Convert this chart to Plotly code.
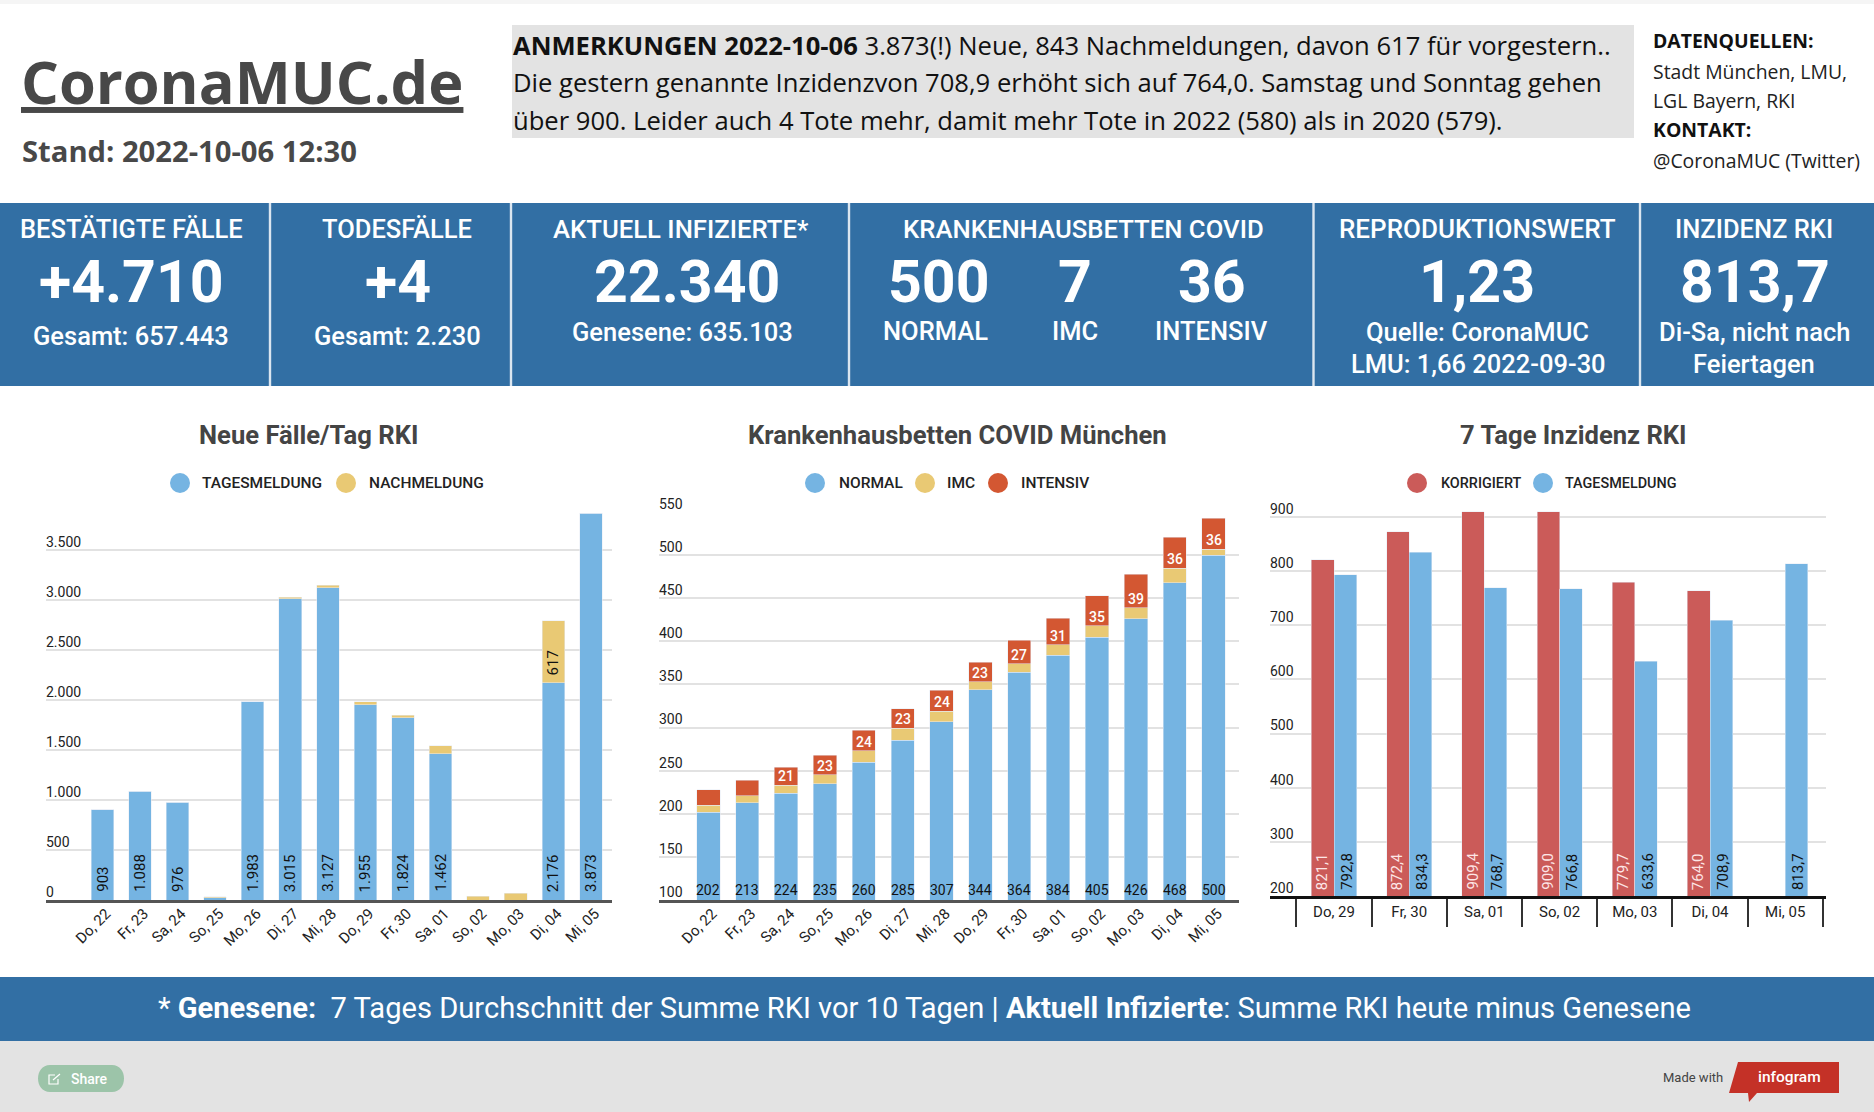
import plotly.graph_objects as go

W = 1874
H = 1112

# chart data
days = ["Do, 22", "Fr, 23", "Sa, 24", "So, 25", "Mo, 26", "Di, 27", "Mi, 28",
        "Do, 29", "Fr, 30", "Sa, 01", "So, 02", "Mo, 03", "Di, 04", "Mi, 05"]
tagesmeldung = [903, 1088, 976, 25, 1983, 3015, 3127, 1955, 1824, 1462, 0, 0, 2176, 3873]
nachmeldung = [0, 0, 0, 10, 0, 15, 21, 28, 26, 81, 37, 70, 617, 0]
cases_ticks = [0, 500, 1000, 1500, 2000, 2500, 3000, 3500]
cases_ticktext = ["0", "500", "1.000", "1.500", "2.000", "2.500", "3.000", "3.500"]

normal = [202, 213, 224, 235, 260, 285, 307, 344, 364, 384, 405, 426, 468, 500]
imc = [8, 8, 9, 10, 13, 14, 12, 9, 10, 12, 13, 13, 17, 7]
intensiv = [18, 18, 21, 23, 24, 23, 24, 23, 27, 31, 35, 39, 36, 36]
beds_ticks = [100, 150, 200, 250, 300, 350, 400, 450, 500, 550]

inz_days = ["Do, 29", "Fr, 30", "Sa, 01", "So, 02", "Mo, 03", "Di, 04", "Mi, 05"]
korrigiert = [821.1, 872.4, 909.4, 909.0, 779.7, 764.0, None]
inz_tages = [792.8, 834.3, 768.7, 766.8, 633.6, 708.9, 813.7]
inz_ticks = [200, 300, 400, 500, 600, 700, 800, 900]

# colours
BLUE = "#75b4e2"
YELLOW = "#e9c974"
ORANGE = "#d35732"
RED = "#cb5b59"
BAND = "#326fa4"
GREY = "#e3e3e3"
TITLE = "#444444"


def fx(px):
    return px / W


def fy(py):
    return 1 - py / H


def de(v):
    return f"{v:,}".replace(",", ".")


def de1(v):
    return f"{v:.1f}".replace(".", ",")


annotations = []
shapes = []


def note(text, x, y, size, color="white", anchor="center", family="Roboto", weight=400):
    annotations.append(dict(text=text, x=fx(x), y=fy(y), xref="paper", yref="paper",
                            xanchor=anchor, yanchor="middle", showarrow=False,
                            font=dict(family=family, size=size, color=color, weight=weight)))


def box(x0, y0, x1, y1, color):
    shapes.append(dict(type="rect", xref="paper", yref="paper", layer="below",
                       x0=fx(x0), x1=fx(x1), y0=fy(y0), y1=fy(y1),
                       fillcolor=color, line_width=0))


def legend_dot(x, y, color, label, label_x, size=15.5):
    shapes.append(dict(type="circle", xref="paper", yref="paper",
                       x0=fx(x - 10), x1=fx(x + 10), y0=fy(y - 10), y1=fy(y + 10),
                       fillcolor=color, line_width=0))
    note(label, label_x, y, size, "#222222", "left", weight=500)


def bar_label(text, x, y, axis, size=15, color="#111111", angle=-90, shift=5, weight=400):
    annotations.append(dict(text=text, x=x, y=y, xref="x" + axis, yref="y" + axis,
                            yanchor="bottom", yshift=shift, textangle=angle, showarrow=False,
                            font=dict(family="Roboto", size=size, color=color, weight=weight)))


# page blocks
box(0, 0, W, 4, "#f5f5f5")
box(512, 25, 1634, 138, GREY)
box(0, 203, W, 386, BAND)
box(0, 977, W, 1041, BAND)
box(0, 1041, W, H, GREY)
for x in [270, 511, 849, 1313.5, 1640]:
    box(x - 1.2, 203, x + 1.2, 386, "#dbe6f0")

# header
note("<b><u>CoronaMUC.de</u></b>", 19, 80, 59.5, "#484848", "left", "Open Sans")
note("<b>Stand: 2022-10-06 12:30</b>", 20, 151, 29.2, "#484848", "left", "Open Sans")
note("<b>ANMERKUNGEN 2022-10-06</b> 3.873(!) Neue, 843 Nachmeldungen, davon 617 für vorgestern..",
     511, 46, 25.6, "#111111", "left", "Open Sans")
note("Die gestern genannte Inzidenzvon 708,9 erhöht sich auf 764,0. Samstag und Sonntag gehen",
     511, 83, 25.6, "#111111", "left", "Open Sans")
note("über 900. Leider auch 4 Tote mehr, damit mehr Tote in 2022 (580) als in 2020 (579).",
     511, 121, 25.6, "#111111", "left", "Open Sans")
note("<b>DATENQUELLEN:</b>", 1651, 41, 19.4, "#111111", "left", "Open Sans")
note("Stadt München, LMU,", 1651, 71, 19.4, "#222222", "left", "Open Sans")
note("LGL Bayern, RKI", 1651, 101, 19.4, "#222222", "left", "Open Sans")
note("<b>KONTAKT:</b>", 1651, 130, 19.4, "#111111", "left", "Open Sans")
note("@CoronaMUC (Twitter)", 1651, 160, 19.4, "#222222", "left", "Open Sans")

# KPI band
note("BESTÄTIGTE FÄLLE", 131, 229, 25.5, weight=500)
note("+4.710", 131, 281, 59, weight=700)
note("Gesamt: 657.443", 131, 336, 25.5, weight=500)
note("TODESFÄLLE", 397, 229, 25.5, weight=500)
note("+4", 398, 281, 59, weight=700)
note("Gesamt: 2.230", 397, 336, 25.5, weight=500)
note("AKTUELL INFIZIERTE*", 681, 229, 25.7, weight=500)
note("22.340", 687, 281, 59, weight=700)
note("Genesene: 635.103", 682, 332, 25.5, weight=500)
note("KRANKENHAUSBETTEN COVID", 1083, 229, 25.7, weight=500)
note("500", 939, 281, 59, weight=700)
note("7", 1075, 281, 59, weight=700)
note("36", 1212, 281, 59, weight=700)
note("NORMAL", 935, 331, 25.5, weight=500)
note("IMC", 1075, 331, 25.5, weight=500)
note("INTENSIV", 1211, 331, 25.5, weight=500)
note("REPRODUKTIONSWERT", 1477, 229, 26, weight=500)
note("1,23", 1477, 281, 59, weight=700)
note("Quelle: CoronaMUC", 1477, 332, 25.5, weight=500)
note("LMU: 1,66 2022-09-30", 1478, 364, 25.5, weight=500)
note("INZIDENZ RKI", 1754, 229, 25.5, weight=500)
note("813,7", 1755, 281, 59, weight=700)
note("Di-Sa, nicht nach", 1754, 332, 25.5, weight=500)
note("Feiertagen", 1754, 364, 25.5, weight=500)

# chart titles and legends
note("Neue Fälle/Tag RKI", 308, 435, 25.6, TITLE, weight=700)
note("Krankenhausbetten COVID München", 957, 435, 25.6, TITLE, weight=700)
note("7 Tage Inzidenz RKI", 1573, 435, 25.6, TITLE, weight=700)
legend_dot(180, 483, BLUE, "TAGESMELDUNG", 200)
legend_dot(346, 483, YELLOW, "NACHMELDUNG", 367)
legend_dot(815, 483, BLUE, "NORMAL", 837)
legend_dot(925, 483, YELLOW, "IMC", 945)
legend_dot(998, 483, ORANGE, "INTENSIV", 1019)
legend_dot(1417, 483, RED, "KORRIGIERT", 1439, 14.4)
legend_dot(1543, 483, BLUE, "TAGESMELDUNG", 1563, 14.4)

# footer
note("*\u00a0<b>Genesene:</b>\u00a0\u00a07 Tages Durchschnitt der Summe RKI vor 10 Tagen | "
     "<b>Aktuell Infizierte</b>: Summe RKI heute minus Genesene", 924, 1008, 29.1)
shapes.append(dict(type="path", xref="paper", yref="paper",
                   path=f"M {fx(50)} {fy(1065)} L {fx(112)} {fy(1065)} "
                        f"C {fx(128)} {fy(1065)} {fx(128)} {fy(1092)} {fx(112)} {fy(1092)} "
                        f"L {fx(50)} {fy(1092)} "
                        f"C {fx(34)} {fy(1092)} {fx(34)} {fy(1065)} {fx(50)} {fy(1065)} Z",
                   fillcolor="#9cc4a9", line_width=0))
shapes.append(dict(type="path", xref="paper", yref="paper",
                   path=f"M {fx(55)} {fy(1075)} L {fx(49)} {fy(1075)} L {fx(49)} {fy(1084)} "
                        f"L {fx(58)} {fy(1084)} L {fx(58)} {fy(1079)} "
                        f"M {fx(53)} {fy(1080)} L {fx(60)} {fy(1074)}",
                   line=dict(color="white", width=1.2)))
note("Share", 69, 1079, 14, "white", "left", weight=500)
note("Made with", 1661, 1077, 13, "#444444", "left")
shapes.append(dict(type="path", xref="paper", yref="paper",
                   path=f"M {fx(1738)} {fy(1062)} L {fx(1839)} {fy(1062)} L {fx(1839)} {fy(1093)} "
                        f"L {fx(1757)} {fy(1093)} L {fx(1749)} {fy(1102)} L {fx(1748)} {fy(1093)} "
                        f"L {fx(1729)} {fy(1093)} Z",
                   fillcolor="#c43127", line_width=0))
note("infogram", 1789, 1077, 15.5, "white", weight=500)

fig = go.Figure()

# Neue Fälle/Tag
fig.add_trace(go.Bar(x=days, y=tagesmeldung, marker_color=BLUE, xaxis="x", yaxis="y"))
fig.add_trace(go.Bar(x=days, y=nachmeldung, marker_color=YELLOW, xaxis="x", yaxis="y"))
for i, (t, n) in enumerate(zip(tagesmeldung, nachmeldung)):
    if t >= 500:
        bar_label(de(t), i, 0, "", shift=6)
    if n >= 500:
        bar_label(de(n), i, t, "", shift=5)

# Krankenhausbetten
fig.add_trace(go.Bar(x=days, y=normal, marker_color=BLUE, xaxis="x2", yaxis="y2"))
fig.add_trace(go.Bar(x=days, y=imc, marker_color=YELLOW, xaxis="x2", yaxis="y2"))
fig.add_trace(go.Bar(x=days, y=intensiv, marker_color=ORANGE, xaxis="x2", yaxis="y2"))
for i, v in enumerate(normal):
    bar_label(str(v), i, beds_ticks[0], "2", size=14, angle=0, shift=0)
    if intensiv[i] >= 20:
        bar_label(str(intensiv[i]), i, v + imc[i], "2", size=14, color="white", angle=0,
                  shift=-1, weight=500)

# 7 Tage Inzidenz
fig.add_trace(go.Bar(x=inz_days, y=korrigiert, marker_color=RED, xaxis="x3", yaxis="y3",
                     offsetgroup="a"))
fig.add_trace(go.Bar(x=inz_days, y=inz_tages, marker_color=BLUE, xaxis="x3", yaxis="y3",
                     offsetgroup="b"))
for i, (r, b) in enumerate(zip(korrigiert, inz_tages)):
    if r is not None:
        bar_label(de1(r), i - 0.164, inz_ticks[0], "3", color="#fde6e6", shift=4)
    bar_label(de1(b), i + 0.164, inz_ticks[0], "3", shift=4)

tickfont = dict(family="Roboto", size=14, color="#222222")


def y_axis(anchor, top, bottom, rng, vals, text=None):
    return dict(anchor=anchor, domain=[fy(bottom), fy(top)], range=rng, tickmode="array",
                tickvals=vals, ticktext=text or [str(v) for v in vals],
                ticklabelposition="inside", ticklabelshift=-8, ticklabelstandoff=-3,
                ticklabeloverflow="allow", tickfont=tickfont, showgrid=True,
                gridcolor="#e2e2e2", gridwidth=1.5, zeroline=False, showline=False, ticks="")


def x_axis(anchor, left, right, rng, color="#555555"):
    return dict(anchor=anchor, domain=[fx(left), fx(right)], range=rng, type="category",
                categoryorder="trace", tickfont=dict(tickfont, size=15), showgrid=False,
                zeroline=False, showline=True, linecolor=color, linewidth=3, ticks="",
                tickangle=-45, ticklabelshift=4, ticklabelstandoff=-4)


xaxis3 = x_axis("y3", 1270, 1826, [-0.851, 6.542], "#111111")
xaxis3.update(tickangle=0, tickson="boundaries", ticks="outside", ticklen=28, tickwidth=1.5,
              tickcolor="#333333", ticklabelshift=0, ticklabelstandoff=0)

fig.update_layout(
    width=W, height=H, margin=dict(l=0, r=0, t=0, b=0, pad=0, autoexpand=False),
    paper_bgcolor="white", plot_bgcolor="rgba(0,0,0,0)",
    showlegend=False, hovermode=False, barmode="stack", bargap=0.4,
    xaxis=x_axis("y", 46, 612, [-1.497, 13.56]),
    yaxis=y_axis("x", 513, 900, [0, 3873], cases_ticks, cases_ticktext),
    xaxis2=x_axis("y2", 659, 1239, [-1.271, 13.654]),
    yaxis2=y_axis("x2", 512, 900, [100, 550], beds_ticks),
    xaxis3=xaxis3,
    yaxis3=y_axis("x3", 506, 896, [200, 920], inz_ticks),
    annotations=annotations, shapes=shapes,
)

# the page has a default body margin, drop it
fix_page = "document.body.style.margin='0';document.body.style.overflow='hidden';"
fig.write_html("out.html", config={"displayModeBar": False}, post_script=fix_page)
